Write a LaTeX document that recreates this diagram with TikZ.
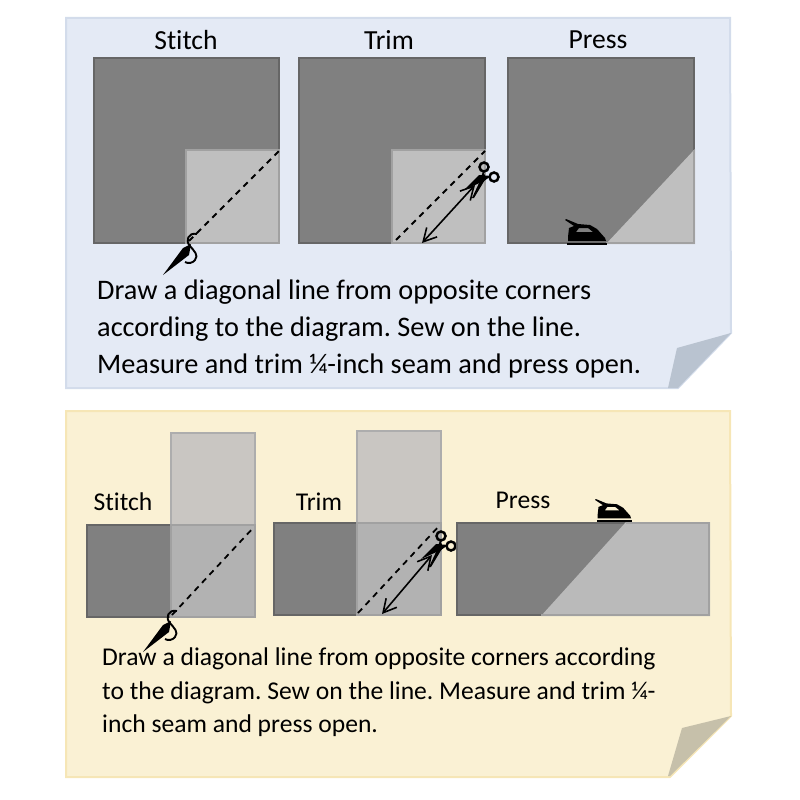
\documentclass[tikz,border=0pt]{standalone}
\usepackage{fontspec}
\setmainfont[Ligatures=NoCommon]{Carlito}
\usetikzlibrary{arrows.meta}
\definecolor{bluepage}{HTML}{E4EAF5}
\definecolor{blueedge}{HTML}{D3DCEB}
\definecolor{bluefold}{HTML}{B9C3D0}
\definecolor{yellowpage}{HTML}{FAF1D4}
\definecolor{yellowedge}{HTML}{F6E6B6}
\definecolor{yellowfold}{HTML}{C6C0AA}
\definecolor{topgrey}{HTML}{C9C6C2}
\tikzset{
  darkpatch/.style={fill=black!50, draw=black!60, line width=2.6pt},
  lightpatch/.style={fill=black!25, draw=black!37, line width=2.6pt},
  overpatch/.style={fill=black!30, draw=black!37, line width=2.6pt},
  toppatch/.style={fill=topgrey, draw=black!32, line width=2.6pt},
  seam/.style={dashed, dash pattern=on 6pt off 5pt, line width=1.8pt},
  measure/.style={{Straight Barb[length=13pt,width=14pt]}-{Straight Barb[length=13pt,width=14pt]}, line width=1.6pt},
  steplabel/.style={font=\fontsize{#1}{30}\selectfont, inner sep=0pt},
  bodytext/.style n args={2}{font=\fontsize{#1}{#2}\selectfont\frenchspacing, align=left, anchor=north west, inner sep=0pt},
  pics/needle/.style={code={
    \fill (-25,32) -- (-5,5) -- (3,1) -- (1,12) -- cycle;
    \draw[line width=1.9pt] (9,-9) .. controls (0,-11) and (-3,-2) .. (2,3)
      .. controls (6,8) and (11,12) .. (7,17) .. controls (5,20) and (0,21) .. (-3,19);
  }},
  pics/scissors/.style={code={
    \draw[line width=2.5pt] (2,-12) circle (4.5);
    \draw[line width=2.5pt] (12,-2) circle (4.5);
    \fill (1,-8) -- (4,-1) -- (-8,19) -- (-10,19) -- (-2,2) -- cycle;
    \fill (9,-3) -- (2,2) -- (-18,11) -- (-3,-4) -- cycle;
  }},
  pics/flatiron/.style={code={
    \fill[even odd rule] (3,18) -- (4,9) -- (9,7) -- (0,1) -- (1,0) -- (13,5) -- (25,6)
      -- (32,10) -- (40,19) -- (41,22) -- (3,22) -- cycle
      (11,13) -- (14,9) -- (23,9) -- (28,13) -- cycle;
    \fill (2,24) rectangle (42,26);
  }},
}
\begin{document}
\begin{tikzpicture}[x=1pt, y=-1pt]
  \useasboundingbox (0,0) rectangle (800,800);

  % Blue sheet
  \draw[fill=bluepage, draw=blueedge, line width=2pt] (66,18) -- (730,18) -- (731,333) -- (678,388) -- (66,388) -- cycle;
  \fill[bluefold] (731,333) -- (677,348) -- (668,388) -- (678,388) -- cycle;

  % Stitch
  \node[steplabel=27.6] (stitchA) at (186,40) {Stitch};
  \draw[darkpatch] (94,58) rectangle (279,243);
  \draw[lightpatch] (186,150) rectangle (279,243);
  \coordinate (seamAa) at (189,241);
  \coordinate (seamAb) at (279,151);
  \draw[seam] (seamAa) -- (seamAb);
  \pic at (188,243) {needle};

  % Trim
  \node[steplabel=27.6] (trimA) at (389,40) {Trim};
  \draw[darkpatch] (299,58) rectangle (485,243);
  \draw[lightpatch] (392,150) rectangle (485,243);
  \coordinate (seamBa) at (396,240);
  \coordinate (seamBb) at (485,151);
  \draw[seam] (seamBa) -- (seamBb);
  \coordinate (cutAa) at (422,243);
  \coordinate (cutAb) at (475,185);
  \draw[measure] (cutAa) -- (cutAb);
  \pic at (482,179) {scissors};

  % Press
  \node[steplabel=27.6] (pressA) at (598,40) {Press};
  \draw[darkpatch] (508,58) rectangle (694,243);
  \fill[black!25] (606,244) -- (695,149) -- (695,244) -- cycle;
  \draw[black!37, line width=2.6pt] (606,243) -- (694,243) -- (694,150);
  \pic at (565,219) {flatiron};

  \node[bodytext={28.3}{37}] (textA) at (97,280) {Draw a diagonal line from opposite corners\\according to the diagram. Sew on the line.\\Measure and trim ¼-inch seam and press open.};

  % Yellow sheet
  \draw[fill=yellowpage, draw=yellowedge, line width=2pt] (66,411) -- (730,411) -- (731,716) -- (670,777) -- (66,777) -- cycle;
  \fill[yellowfold] (731,716) -- (682,728) -- (668,776) -- (670,776) -- cycle;

  % Stitch
  \node[steplabel=25.6] (stitchB) at (123,502) {Stitch};
  \draw[toppatch] (171,433) rectangle (255,525);
  \draw[darkpatch] (87,525) rectangle (171,617);
  \draw[overpatch] (171,525) rectangle (255,617);
  \coordinate (seamCa) at (172,615);
  \coordinate (seamCb) at (254,527);
  \draw[seam] (seamCa) -- (seamCb);
  \pic at (168,620) {needle};

  % Trim
  \node[steplabel=25.6] (trimB) at (319,502) {Trim};
  \draw[toppatch] (357,431) rectangle (441,523);
  \draw[darkpatch] (274,523) rectangle (357,615);
  \draw[overpatch] (357,523) rectangle (441,615);
  \coordinate (seamDa) at (358,613);
  \coordinate (seamDb) at (440,525);
  \draw[seam] (seamDa) -- (seamDb);
  \coordinate (cutBa) at (382,614);
  \coordinate (cutBb) at (432,555);
  \draw[measure] (cutBa) -- (cutBb);
  \pic at (439,548) {scissors};

  % Press
  \node[steplabel=25.6] (pressB) at (523,500) {Press};
  \draw[darkpatch] (457,523) rectangle (709,615);
  \fill[black!27] (541,616) -- (626,522) -- (710,522) -- (710,616) -- cycle;
  \draw[black!37, line width=2.6pt] (541,615) -- (709,615) -- (709,523) -- (626,523);
  \pic[scale=0.88] at (595,499) {flatiron};

  \node[bodytext={25.6}{33.5}] (textB) at (102,648) {Draw a diagonal line from opposite corners according\\to the diagram. Sew on the line. Measure and trim ¼-\\inch seam and press open.};
\end{tikzpicture}
\end{document}
